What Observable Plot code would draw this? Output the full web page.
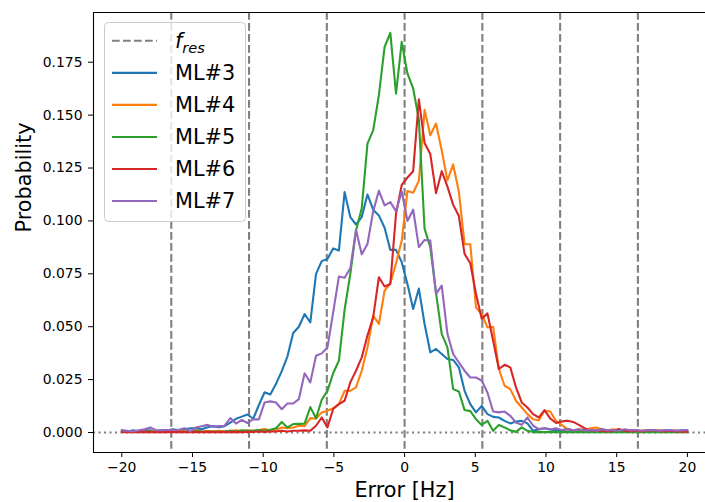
<!DOCTYPE html>
<html><head><meta charset="utf-8">
<script src="https://cdn.jsdelivr.net/npm/d3@7"></script>
<script src="https://cdn.jsdelivr.net/npm/@observablehq/plot@0.6"></script>
<style>
html,body{margin:0;padding:0;background:#fff;overflow:hidden}
#chart{position:relative;width:705px;height:502px}
</style></head><body><div id="chart"></div>
<script>
// bin positions (Hz)
const xBins = [
 -20.000,-19.596,-19.192,-18.788,-18.384,-17.980,-17.576,-17.172,-16.768,-16.364,
 -15.960,-15.556,-15.152,-14.747,-14.343,-13.939,-13.535,-13.131,-12.727,-12.323,
 -11.919,-11.515,-11.111,-10.707,-10.303,-9.899,-9.495,-9.091,-8.687,-8.283,
 -7.879,-7.475,-7.071,-6.667,-6.263,-5.859,-5.455,-5.051,-4.646,-4.242,
 -3.838,-3.434,-3.030,-2.626,-2.222,-1.818,-1.414,-1.010,-0.606,-0.202,
 0.202,0.606,1.010,1.414,1.818,2.222,2.626,3.030,3.434,3.838,
 4.242,4.646,5.051,5.455,5.859,6.263,6.667,7.071,7.475,7.879,
 8.283,8.687,9.091,9.495,9.899,10.303,10.707,11.111,11.515,11.919,
 12.323,12.727,13.131,13.535,13.939,14.343,14.747,15.152,15.556,15.960,
 16.364,16.768,17.172,17.576,17.980,18.384,18.788,19.192,19.596,20.000];

const ml3 = [
 0.0010,0.0005,0.0010,0.0005,0.0010,0.0010,0.0005,0.0010,0.0010,0.0015,
 0.0010,0.0015,0.0020,0.0020,0.0015,0.0025,0.0030,0.0025,0.0030,0.0047,
 0.0065,0.0075,0.0085,0.0065,0.0130,0.0190,0.0180,0.0230,0.0290,0.0360,
 0.0470,0.0500,0.0560,0.0520,0.0750,0.0810,0.0820,0.0870,0.0860,0.1136,
 0.1018,0.0983,0.1018,0.1125,0.1053,0.1026,0.0968,0.0863,0.0863,0.0805,
 0.0702,0.0584,0.0680,0.0513,0.0379,0.0395,0.0371,0.0347,0.0343,0.0308,
 0.0197,0.0134,0.0095,0.0126,0.0087,0.0074,0.0071,0.0055,0.0043,0.0052,
 0.0055,0.0043,0.0008,0.0015,0.0020,0.0015,0.0010,0.0010,0.0015,0.0010,
 0.0010,0.0005,0.0010,0.0010,0.0005,0.0010,0.0005,0.0010,0.0005,0.0010,
 0.0010,0.0005,0.0005,0.0010,0.0005,0.0010,0.0005,0.0005,0.0010,0.0010];

const ml4 = [
 0.0003,0.0005,0.0003,0.0005,0.0003,0.0005,0.0008,0.0005,0.0003,0.0005,
 0.0011,0.0005,0.0008,0.0010,0.0005,0.0008,0.0005,0.0008,0.0005,0.0008,
 0.0010,0.0005,0.0010,0.0008,0.0012,0.0016,0.0010,0.0013,0.0024,0.0020,
 0.0024,0.0032,0.0030,0.0068,0.0066,0.0095,0.0103,0.0115,0.0134,0.0197,
 0.0197,0.0213,0.0292,0.0402,0.0552,0.0513,0.0670,0.0705,0.0800,0.0907,
 0.1141,0.1133,0.1190,0.1525,0.1405,0.1460,0.1333,0.1191,0.1267,0.1138,
 0.0890,0.0890,0.0590,0.0560,0.0497,0.0500,0.0300,0.0221,0.0205,0.0150,
 0.0118,0.0087,0.0063,0.0058,0.0103,0.0099,0.0055,0.0036,0.0016,0.0010,
 0.0015,0.0010,0.0020,0.0024,0.0015,0.0010,0.0015,0.0010,0.0005,0.0010,
 0.0010,0.0008,0.0010,0.0005,0.0010,0.0008,0.0005,0.0010,0.0005,0.0008];

const ml5 = [
 0.0003,0.0003,0.0005,0.0003,0.0003,0.0005,0.0003,0.0003,0.0005,0.0003,
 0.0003,0.0005,0.0003,0.0008,0.0005,0.0003,0.0005,0.0003,0.0005,0.0008,
 0.0005,0.0010,0.0008,0.0008,0.0012,0.0008,0.0013,0.0020,0.0050,0.0024,
 0.0040,0.0041,0.0042,0.0120,0.0067,0.0155,0.0197,0.0280,0.0340,0.0580,
 0.0750,0.0955,0.1060,0.1365,0.1428,0.1594,0.1822,0.1889,0.1602,0.1846,
 0.1697,0.1626,0.1480,0.0963,0.0876,0.0660,0.0466,0.0402,0.0205,0.0194,
 0.0106,0.0101,0.0063,0.0036,0.0055,0.0008,0.0036,0.0024,0.0010,0.0003,
 0.0024,0.0008,0.0002,0.0003,0.0002,0.0003,0.0002,0.0003,0.0002,0.0002,
 0.0003,0.0002,0.0002,0.0003,0.0002,0.0002,0.0003,0.0002,0.0002,0.0003,
 0.0002,0.0002,0.0003,0.0002,0.0002,0.0003,0.0002,0.0002,0.0003,0.0002];

const ml6 = [
 0.0002,0.0003,0.0002,0.0002,0.0003,0.0002,0.0002,0.0003,0.0002,0.0002,
 0.0003,0.0002,0.0002,0.0003,0.0002,0.0003,0.0002,0.0002,0.0003,0.0002,
 0.0003,0.0002,0.0003,0.0003,0.0005,0.0003,0.0005,0.0005,0.0008,0.0005,
 0.0008,0.0008,0.0010,0.0008,0.0032,0.0071,0.0024,0.0111,0.0134,0.0150,
 0.0237,0.0292,0.0355,0.0458,0.0544,0.0734,0.0690,0.0702,0.1034,0.1170,
 0.1205,0.1235,0.1575,0.1368,0.1316,0.1131,0.1235,0.1162,0.1077,0.1023,
 0.0844,0.0800,0.0655,0.0537,0.0563,0.0434,0.0300,0.0320,0.0308,0.0213,
 0.0142,0.0118,0.0087,0.0071,0.0106,0.0066,0.0045,0.0052,0.0056,0.0050,
 0.0036,0.0020,0.0010,0.0008,0.0010,0.0005,0.0008,0.0016,0.0008,0.0005,
 0.0008,0.0005,0.0010,0.0011,0.0008,0.0005,0.0008,0.0005,0.0005,0.0003];

const ml7 = [
 0.0011,0.0008,0.0005,0.0011,0.0015,0.0024,0.0011,0.0011,0.0012,0.0012,
 0.0013,0.0020,0.0005,0.0024,0.0030,0.0036,0.0027,0.0030,0.0032,0.0068,
 0.0042,0.0060,0.0045,0.0062,0.0062,0.0142,0.0147,0.0142,0.0110,0.0137,
 0.0137,0.0158,0.0280,0.0237,0.0363,0.0374,0.0402,0.0568,0.0737,0.0731,
 0.0776,0.0957,0.0842,0.0891,0.1045,0.1143,0.1073,0.1089,0.1046,0.1139,
 0.1000,0.1053,0.0876,0.0910,0.0907,0.0655,0.0694,0.0466,0.0371,0.0331,
 0.0292,0.0260,0.0260,0.0245,0.0189,0.0099,0.0095,0.0099,0.0079,0.0047,
 0.0036,0.0071,0.0032,0.0016,0.0020,0.0014,0.0020,0.0012,0.0016,0.0010,
 0.0015,0.0010,0.0012,0.0008,0.0016,0.0010,0.0012,0.0008,0.0015,0.0010,
 0.0012,0.0008,0.0010,0.0012,0.0008,0.0010,0.0012,0.0008,0.0010,0.0012];

const seriesNames = ["ML#3", "ML#4", "ML#5", "ML#6", "ML#7"];
const seriesValues = [ml3, ml4, ml5, ml6, ml7];
const seriesColors = ["#1f77b4", "#ff7f0e", "#2ca02c", "#d62728", "#9467bd"];
const fRes = [-16.5, -11, -5.5, 0, 5.5, 11, 16.5];
const xTicks = [-20, -15, -10, -5, 0, 5, 10, 15, 20];
const yTicks = [0, 0.025, 0.05, 0.075, 0.1, 0.125, 0.15, 0.175];
const xDomain = [-22, 21.28];
const yDomain = [-0.00945, 0.1985];
const xLabel = "Error [Hz]";
const yLabel = "Probability";

const rows = seriesNames.flatMap((name, i) =>
  seriesValues[i].map((v, k) => ({x: xBins[k], y: v, name})));

const fmtX = d => d < 0 ? "\u2212" + Math.abs(d) : String(d);
const grey = "#808080";
const dashPat = "7.7,3.3";

const plot = Plot.plot({
  width: 705, height: 502,
  marginLeft: 93, marginRight: 0, marginTop: 12, marginBottom: 50,
  style: {fontFamily: "DejaVu Sans", fontSize: "13.9px", color: "black", background: "white"},
  x: {domain: xDomain, label: null},
  y: {domain: yDomain, label: null},
  color: {domain: seriesNames, range: seriesColors},
  marks: [
    Plot.ruleX(fRes, {stroke: grey, strokeWidth: 2.1, strokeDasharray: dashPat}),
    Plot.ruleY([0], {stroke: grey, strokeWidth: 2.1, strokeDasharray: "2.1,3.4"}),
    Plot.line(rows, {x: "x", y: "y", z: "name", stroke: "name", strokeWidth: 2.1}),
    Plot.ruleX([xDomain[0]], {stroke: "black", strokeWidth: 1.1}),
    Plot.ruleY(yDomain, {stroke: "black", strokeWidth: 1.1}),
    Plot.axisX({ticks: xTicks, tickFormat: fmtX, tickSize: 5, tickPadding: 5, label: null}),
    Plot.axisY({ticks: yTicks, tickFormat: d3.format(".3f"), tickSize: 5, tickPadding: 6, label: null}),
    Plot.text([xLabel], {text: d => d, frameAnchor: "bottom", lineAnchor: "middle", dx: 5, dy: 38, fontSize: 20.8}),
    Plot.text([yLabel], {text: d => d, frameAnchor: "left", lineAnchor: "middle", dx: -69, rotate: -90, fontSize: 20.8})
  ]
});

document.getElementById("chart").appendChild(plot);

// legend (matplotlib-style, upper left, inside the axes)
const svg = d3.select(plot.tagName.toLowerCase() === "svg" ? plot : plot.querySelector("svg"));
const lg = svg.append("g").attr("font-family", "DejaVu Sans").attr("font-size", 20.8)
  .attr("text-anchor", "start");
lg.append("rect")
  .attr("x", 104.5).attr("y", 22.5).attr("width", 141).attr("height", 199)
  .attr("rx", 4).attr("fill", "white").attr("fill-opacity", 0.8)
  .attr("stroke", "#cccccc").attr("stroke-width", 1);
const entries = [{label: null, color: grey, dash: dashPat}]
  .concat(seriesNames.map((n, i) => ({label: n, color: seriesColors[i], dash: null})));
entries.forEach((e, i) => {
  const cy = 40.8 + i * 32.05;
  lg.append("line").attr("x1", 112).attr("x2", 157).attr("y1", cy).attr("y2", cy)
    .attr("stroke", e.color).attr("stroke-width", 2.1)
    .attr("stroke-dasharray", e.dash);
  const t = lg.append("text").attr("x", 175).attr("y", cy).attr("dy", "0.35em")
    .attr("fill", "black").attr("text-anchor", "start");
  if (e.label === null) {
    t.append("tspan").attr("font-style", "italic").text("f");
    t.append("tspan").attr("font-style", "italic").attr("font-size", 14.6).attr("dy", "0.33em").text("res");
  } else {
    t.text(e.label);
  }
});
</script>
</body></html>
